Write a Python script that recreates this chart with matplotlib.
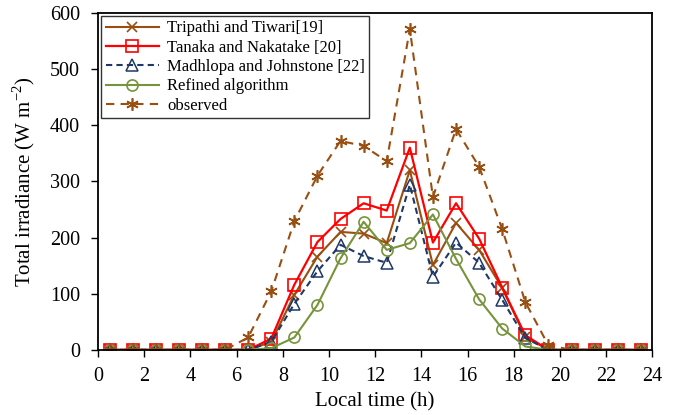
import matplotlib
matplotlib.use("Agg")
import matplotlib.pyplot as plt
import numpy as np

hours = [0.5, 1.5, 2.5, 3.5, 4.5, 5.5, 6.5, 7.5, 8.5, 9.5, 10.5, 11.5,
         12.5, 13.5, 14.5, 15.5, 16.5, 17.5, 18.5, 19.5, 20.5, 21.5, 22.5, 23.5]
tripathi = [0, 0, 0, 0, 0, 0, 0, 14, 98, 166, 210, 207,
            190, 320, 151, 226, 178, 110, 23, 0, 0, 0, 0, 0]
tanaka = [0, 0, 0, 0, 0, 0, 0, 20, 116, 192, 233, 261,
          248, 360, 191, 261, 198, 111, 26, 0, 0, 0, 0, 0]
madhlopa = [0, 0, 0, 0, 0, 0, 0, 14, 82, 140, 187, 167,
            155, 294, 130, 191, 155, 89, 21, 0, 0, 0, 0, 0]
refined = [0, 0, 0, 0, 0, 0, 0, 3, 22, 80, 163, 228,
           178, 190, 241, 162, 90, 38, 6, 0, 0, 0, 0, 0]
observed = [0, 0, 0, 0, 0, 0, 22, 104, 229, 310, 372, 363,
            336, 571, 272, 393, 326, 215, 85, 8, 0, 0, 0, 0]

labels = ["Tripathi and Tiwari[19]", "Tanaka and Nakatake [20]",
          "Madhlopa and Johnstone [22]", "Refined algorithm", "observed"]

plt.rcParams['font.family'] = ['Liberation Serif', 'DejaVu Serif']
plt.rcParams['mathtext.fontset'] = 'custom'
plt.rcParams['mathtext.rm'] = 'Liberation Serif'

fig = plt.figure(figsize=(6.76, 4.15), dpi=100)
ax = fig.add_axes([0.145, 0.157, 0.82, 0.812])

brown = '#9a4f12'
red = '#ff0000'
blue = '#1f3864'
green = '#77933c'

ms = 7
ax.plot(hours, tripathi, color=brown, lw=1.5, marker='x', ms=ms, mew=1.2, label=labels[0])
ax.plot(hours, tanaka, color=red, lw=1.6, marker='s', ms=ms + 1, mfc='none', mew=1.2, label=labels[1])
ax.plot(hours, madhlopa, color=blue, lw=1.5, ls=(0, (3, 2)), marker='^', ms=ms + 1, mfc='none', mew=1.1, label=labels[2])
ax.plot(hours, refined, color=green, lw=1.5, marker='o', ms=ms + 1, mfc='none', mew=1.2, label=labels[3])
ax.plot(hours, observed, color=brown, lw=1.5, ls=(0, (4, 3)), marker=(6, 2, 0), ms=ms + 2, mew=1.2, label=labels[4])

ax.set_xlim(0, 24)
ax.set_ylim(0, 600)
ax.set_xticks(np.arange(0, 25, 2))
ax.set_yticks(np.arange(0, 601, 100))
ax.tick_params(direction='out', length=5, width=1, labelsize=14.5, colors='black')
ax.tick_params(axis='x', pad=7)
ax.tick_params(axis='y', pad=8)
for s in ax.spines.values():
    s.set_linewidth(1.3)
    s.set_color('black')

ax.set_xlabel('Local time (h)', fontsize=15, labelpad=5)
ax.set_ylabel('Total irradiance (W m$^{\\mathregular{-2}}$)', fontsize=15, labelpad=9)

leg = ax.legend(loc='upper left', fontsize=12, handlelength=3.2, frameon=True,
                fancybox=False, edgecolor='black', borderpad=0.25, labelspacing=0.2,
                handletextpad=0.5, borderaxespad=0.2)
leg.get_frame().set_linewidth(1.0)

fig.savefig('out.png', dpi=100)
